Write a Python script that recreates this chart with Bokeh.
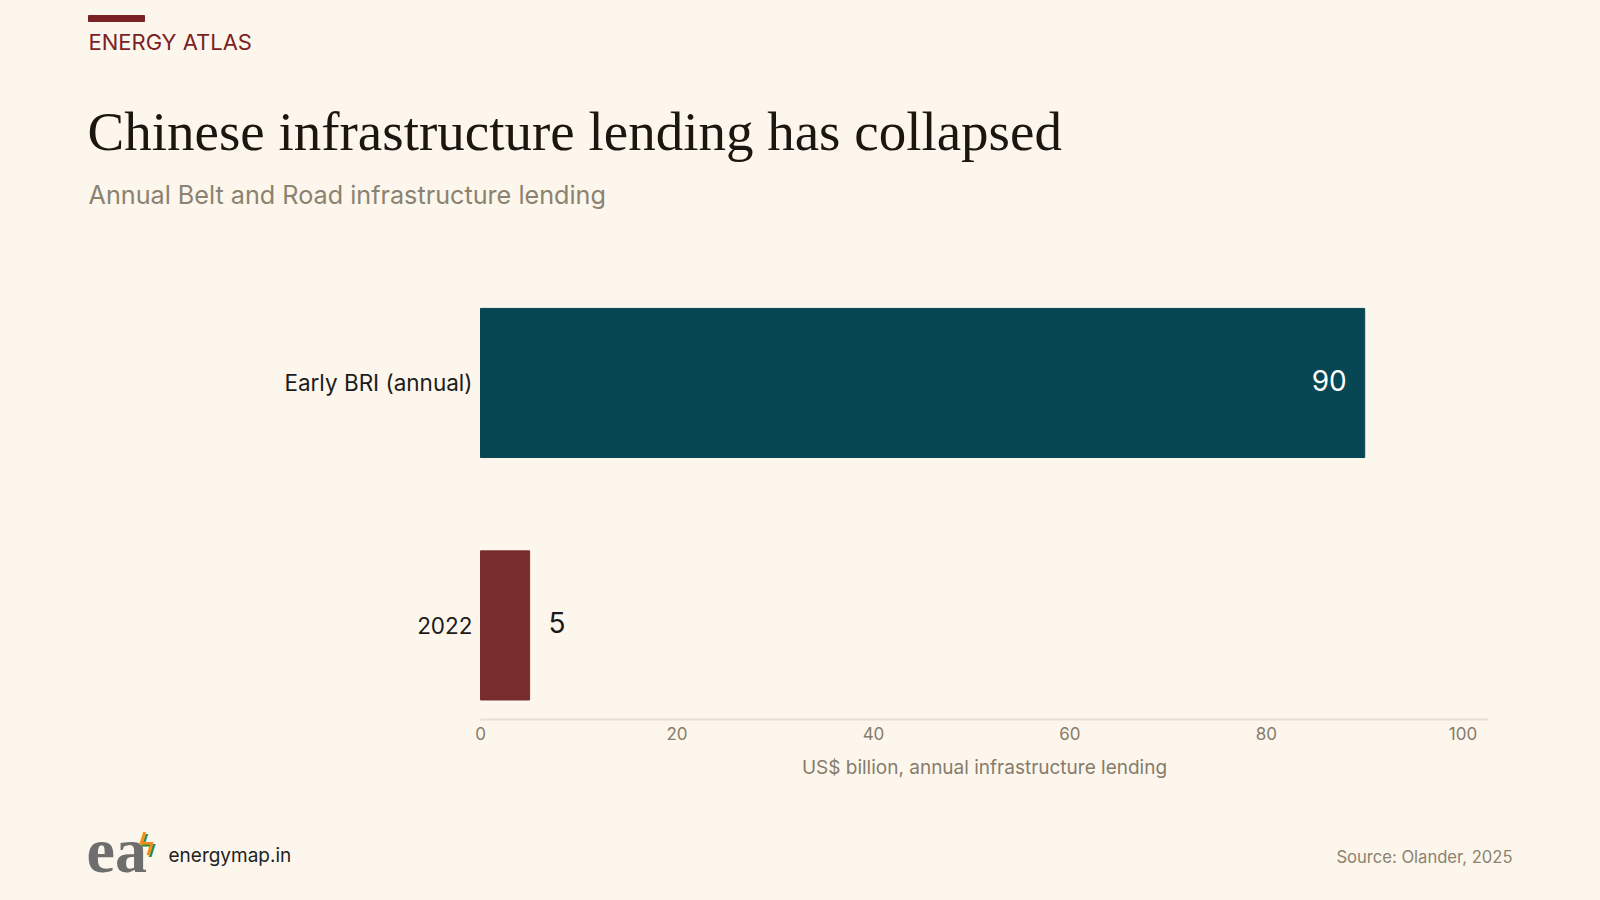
from bokeh.plotting import figure
from bokeh.layouts import column
from bokeh.models import Range1d, FixedTicker, Label, ColumnDataSource
from bokeh.core.properties import value
from bokeh.embed import file_html
from bokeh.resources import INLINE

# ---- data ----
categories = ["Early BRI (annual)", "2022"]
lending = [90, 5]
bar_colors = ["#074753", "#772c2e"]
x_ticks = [0, 20, 40, 60, 80, 100]
x_axis_end = 102.6
x_axis_title = "US$ billion, annual infrastructure lending"

BG = "#fdf6ec"
SANS = "Inter"
SERIF = "Liberation Serif"
W = 1600
HEADER_H, CHART_H, FOOTER_H = 237, 513, 150
PLOT_LEFT, PLOT_RIGHT = 480, 1488   # pixel extent of the value axis


def blank(height, top):
    f = figure(width=W, height=height, output_backend="svg", toolbar_location=None,
               x_range=Range1d(0, W), y_range=Range1d(top + height, top),
               x_axis_location=None, y_axis_location=None, min_border=0)
    f.background_fill_color = BG
    f.border_fill_color = BG
    f.outline_line_color = None
    f.xgrid.visible = False
    f.ygrid.visible = False
    return f


def lab(f, text, x, baseline, size, color, font=SANS, align="left", style="normal"):
    # Label's alphabetic anchor sits ~0.36 em below the drawn baseline
    f.add_layout(Label(x=x, y=baseline - 0.36 * size, text=text, text_font=font,
                       text_font_size="%gpx" % size, text_color=color, text_align=align,
                       text_baseline="alphabetic", text_font_style=style))


# ---- header ----
head = blank(HEADER_H, 0)
head.quad(left=88, right=144, top=15, bottom=21, color="#7b2226")
lab(head, "ENERGY ATLAS", 88, 49, 22, "#7b2226")
lab(head, "Chinese infrastructure lending has collapsed", 87, 151, 55, "#1c1611", font=SERIF)
lab(head, "Annual Belt and Road infrastructure lending", 88, 204, 25.2, "#8b8270")

# ---- chart ----
positions = [len(categories) - 1 - i for i in range(len(categories))]
k = (PLOT_RIGHT - PLOT_LEFT) / x_axis_end

p = figure(width=W, height=CHART_H, output_backend="svg", toolbar_location=None,
           x_range=Range1d(-PLOT_LEFT / k, (W - PLOT_LEFT) / k),
           y_range=Range1d(-0.388, 1.6), y_axis_location=None,
           min_border_left=0, min_border_right=0,
           min_border_top=0, min_border_bottom=HEADER_H + CHART_H - 719)
p.background_fill_color = BG
p.border_fill_color = BG
p.outline_line_color = None
p.xgrid.visible = False
p.ygrid.visible = False

src = ColumnDataSource(dict(y=positions, right=lending, color=bar_colors, cat=categories,
                            zero=[0] * len(categories)))
p.hbar(y="y", right="right", left=0, height=0.615, color="color", source=src)

# category labels (left of the bars)
p.text(x="zero", y="y", text="cat", source=src, text_align="right", text_baseline="middle",
       x_offset=-8, text_color="#1c1c1c", text_font=value(SANS), text_font_size="22.5px")

inside = [i for i, v in enumerate(lending) if v > 50]
outside = [i for i, v in enumerate(lending) if v <= 50]
src_in = ColumnDataSource(dict(x=[lending[i] for i in inside], y=[positions[i] for i in inside],
                               t=[str(lending[i]) for i in inside]))
src_out = ColumnDataSource(dict(x=[lending[i] for i in outside], y=[positions[i] for i in outside],
                                t=[str(lending[i]) for i in outside]))
p.text(x="x", y="y", text="t", source=src_in, text_align="right", text_baseline="middle",
       x_offset=-18, y_offset=-2, text_color="#ffffff", text_font=value(SANS), text_font_size="28px")
p.text(x="x", y="y", text="t", source=src_out, text_align="left", text_baseline="middle",
       x_offset=19, y_offset=-3, text_color="#1a1a1a", text_font=value(SANS), text_font_size="28px")

xa = p.xaxis[0]
xa.bounds = (0, x_axis_end)
xa.ticker = FixedTicker(ticks=x_ticks)
xa.axis_line_color = "#e8dfd1"
xa.axis_line_width = 2
xa.major_tick_line_color = None
xa.minor_tick_line_color = None
xa.major_tick_out = 0
xa.major_tick_in = 0
xa.major_label_standoff = 7
xa.major_label_text_font = SANS
xa.major_label_text_font_size = "17px"
xa.major_label_text_color = "#857c6b"

# ---- footer ----
foot = blank(FOOTER_H, HEADER_H + CHART_H)
# axis title, centred under the value axis
lab(foot, x_axis_title, (PLOT_LEFT + PLOT_RIGHT) / 2, 774, 19, "#857c6b", align="center")
lab(foot, "ea", 86, 873, 64, "#6e6e6e", font=SERIF, style="bold")
lab(foot, "\u03df", 138, 857, 30, "#2e8b3a", font="DejaVu Sans")
lab(foot, "\u03df", 136, 855, 30, "#f08a1c", font="DejaVu Sans")
lab(foot, "energymap.in", 168, 862, 19, "#222222")
lab(foot, "Source: Olander, 2025", 1512, 862, 16.6, "#8b8270", align="right")

page = column(head, p, foot, spacing=0, styles={"background-color": BG})
html = file_html(page, INLINE)
html = html.replace("<head>", "<head><style>html,body{background:%s;}</style>" % BG, 1)
open("out.html", "w").write(html)
